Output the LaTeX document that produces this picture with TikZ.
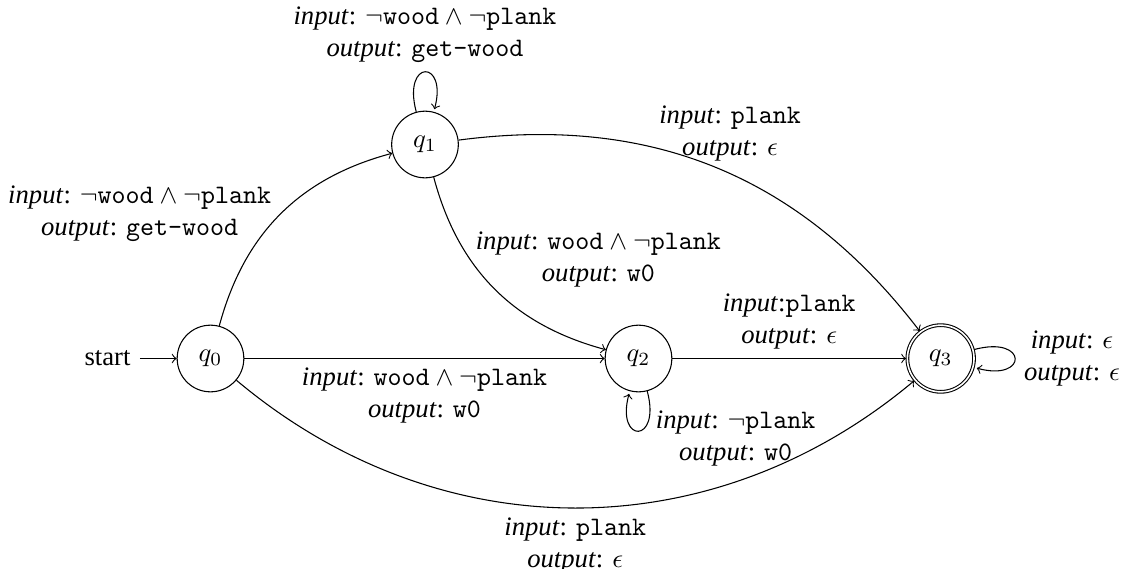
\documentclass[tikz,border=0pt]{standalone}
\usepackage{fontspec}
\setmainfont{Liberation Serif}
\usetikzlibrary{automata,positioning}
\tikzset{
  every state/.style={draw,circle,minimum size=25pt,inner sep=0pt},
  lbl/.style={align=center,inner sep=3.33pt},
}
\newcommand{\inp}{\emph{input}}
\newcommand{\outp}{\emph{output}}
\begin{document}
\begin{tikzpicture}[x=0.375pt,y=-0.375pt,>=to,every edge/.style={draw,->}]
\useasboundingbox (0,0) rectangle (1124,569);
\node[state,initial,initial text=start] (q0) at (210.5,358.5) {$q_0$};
\node[state] (q1) at (425,144.5) {$q_1$};
\node[state] (q2) at (638.5,358.5) {$q_2$};
\node[state,accepting] (q3) at (940.7,358.5) {$q_3$};

\path
 (q0) edge[bend left] node[lbl,left,pos=0.5] {\inp: $\neg\texttt{wood}\wedge\neg\texttt{plank}$\\ \outp: \texttt{get-wood}} (q1)
 (q1) edge[loop above] node[lbl,above] {\inp: $\neg\texttt{wood}\wedge\neg\texttt{plank}$\\ \outp: \texttt{get-wood}} (q1)
 (q1) edge[bend left] node[lbl,anchor=south,pos=0.5,xshift=4.9pt,yshift=-0.8pt] {\inp: \texttt{plank}\\ \outp: $\epsilon$} (q3)
 (q1) edge[bend right] node[lbl,right,pos=0.5,xshift=-10.5pt,yshift=10.9pt] {\inp: $\texttt{wood}\wedge\neg\texttt{plank}$\\ \outp: \texttt{w0}} (q2)
 (q0) edge node[lbl,below] {\inp: $\texttt{wood}\wedge\neg\texttt{plank}$\\ \outp: \texttt{w0}} (q2)
 (q2) edge node[lbl,above] {\inp:\texttt{plank}\\ \outp: $\epsilon$} (q3)
 (q0) edge[bend right=40] node[lbl,below] {\inp: \texttt{plank}\\ \outp: $\epsilon$} (q3)
 (q2) edge[loop below] node[lbl,right,xshift=3pt,yshift=-3pt] {\inp: $\neg\texttt{plank}$\\ \outp: \texttt{w0}} (q2)
 (q3) edge[loop right] node[lbl,right] {\inp: $\epsilon$\\ \outp: $\epsilon$} (q3);
\end{tikzpicture}
\end{document}
